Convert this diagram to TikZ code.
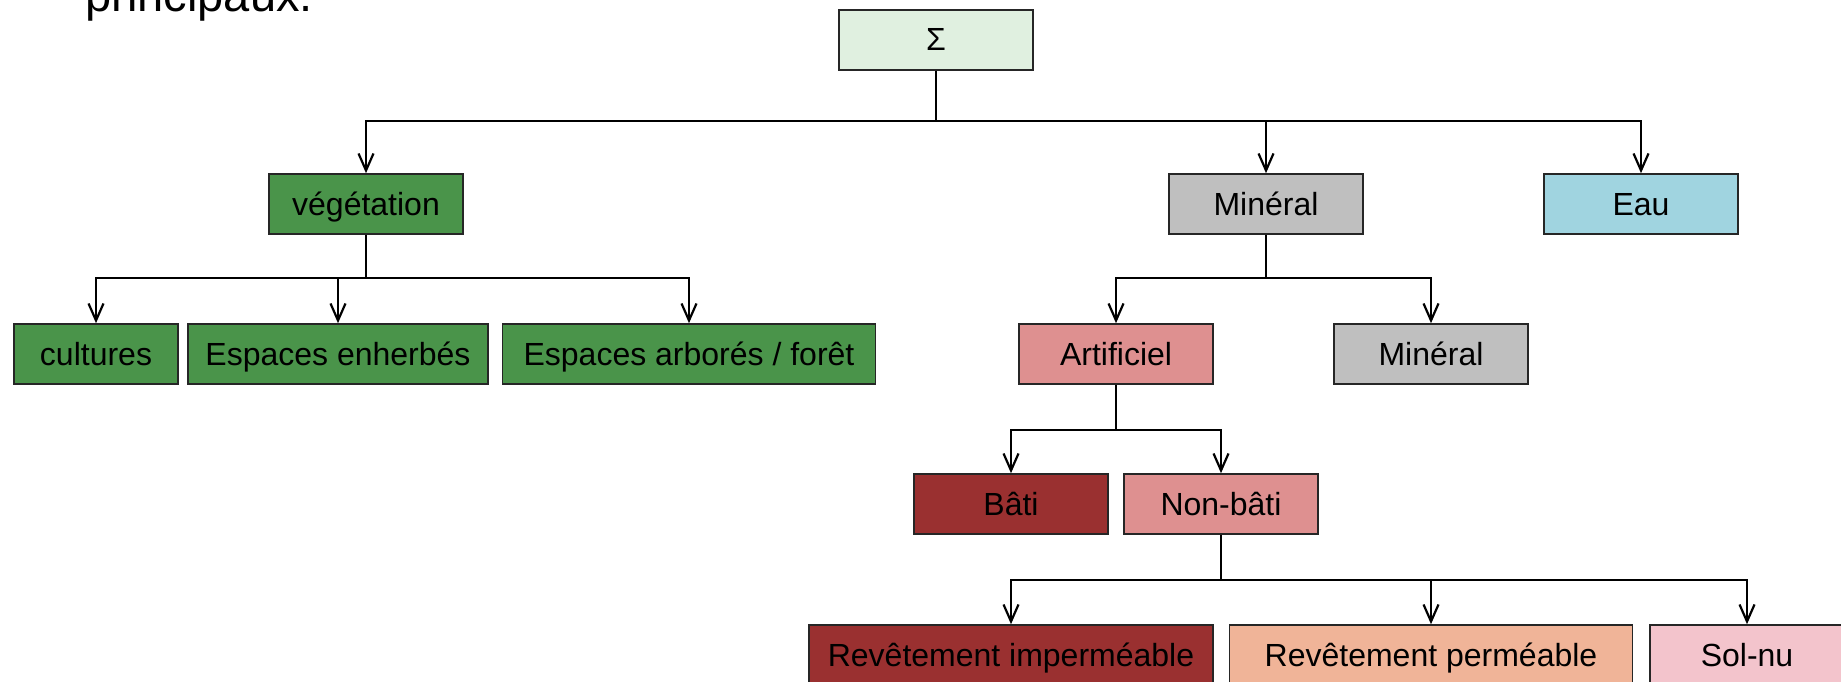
\documentclass[tikz,border=0pt]{standalone}
\usepackage{fontspec}
\setmainfont{Liberation Sans}
\usetikzlibrary{arrows.meta}

\definecolor{topGreen}{RGB}{224,240,224}
\definecolor{vegGreen}{RGB}{74,148,74}
\definecolor{minGrey}{RGB}{191,191,191}
\definecolor{eauBlue}{RGB}{160,212,224}
\definecolor{artPink}{RGB}{222,144,144}
\definecolor{batiRed}{RGB}{154,48,48}
\definecolor{permPeach}{RGB}{240,180,152}
\definecolor{solPink}{RGB}{243,196,204}

\begin{document}
\begin{tikzpicture}[x=1pt, y=-1pt, every node/.style={font=\fontsize{32}{38}\selectfont},
  box/.style={draw=black!85, line width=1.6pt, minimum height=60pt, minimum width=194pt,
    inner sep=0pt, text height=26pt, text depth=4pt},
  link/.style={line width=2.2pt},
  arr/.style={link, -{Straight Barb[length=17pt,width=15pt]}}]
\useasboundingbox (0,0) rectangle (1841,682);
\clip (0,0) rectangle (1841,682);

\node[anchor=base west, font=\fontsize{47}{56}\selectfont] (tail) at (82,12) {principaux.};

% level 0 and 1
\node[box, fill=topGreen] (sigma) at (936,40) {Σ};
\node[box, fill=vegGreen] (veg) at (366,204) {végétation};
\node[box, fill=minGrey] (mineral) at (1266,204) {Minéral};
\node[box, fill=eauBlue] (eau) at (1641,204) {Eau};

% level 2
\node[box, fill=vegGreen, minimum width=164pt] (cultures) at (96,354) {cultures};
\node[box, fill=vegGreen, minimum width=300pt] (herbe) at (338,354) {Espaces enherbés};
\node[box, fill=vegGreen, minimum width=373pt] (foret) at (689,354) {Espaces arborés / forêt};
\node[box, fill=artPink] (artif) at (1116,354) {Artificiel};
\node[box, fill=minGrey] (mineralb) at (1431,354) {Minéral};

% level 3 and 4
\node[box, fill=batiRed] (bati) at (1011,504) {Bâti};
\node[box, fill=artPink] (nonbati) at (1221,504) {Non-bâti};
\node[box, fill=batiRed, minimum width=404pt] (imper) at (1011,655) {Revêtement imperméable};
\node[box, fill=permPeach, minimum width=403pt] (perm) at (1431,655) {Revêtement perméable};
\node[box, fill=solPink] (solnu) at (1747,655) {Sol-nu};

% bends of the connectors
\coordinate (b0) at (936,121);
\coordinate (bveg) at (366,278);
\coordinate (bmin) at (1266,278);
\coordinate (bart) at (1116,430);
\coordinate (bnon) at (1221,580);

\foreach \c in {veg,mineral,eau}
  \draw[arr] (sigma.south) -- (b0) -| (\c.north);
\foreach \c in {cultures,herbe,foret}
  \draw[arr] (veg.south) -- (bveg) -| (\c.north);
\foreach \c in {artif,mineralb}
  \draw[arr] (mineral.south) -- (bmin) -| (\c.north);
\foreach \c in {bati,nonbati}
  \draw[arr] (artif.south) -- (bart) -| (\c.north);
\foreach \c in {imper,perm,solnu}
  \draw[arr] (nonbati.south) -- (bnon) -| (\c.north);
\end{tikzpicture}
\end{document}
